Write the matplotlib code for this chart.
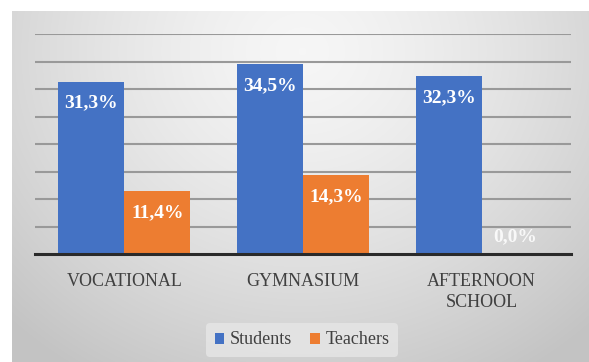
import matplotlib
matplotlib.use("Agg")
import matplotlib.pyplot as plt
import numpy as np

categories = ["VOCATIONAL", "GYMNASIUM", "AFTERNOON\nSCHOOL"]
students = [31.3, 34.5, 32.3]
teachers = [11.4, 14.3, 0.0]
series_names = ["Students", "Teachers"]

BLUE = "#4472C4"
ORANGE = "#ED7D31"
plt.rcParams["font.family"] = "serif"
plt.rcParams["font.serif"] = ["Liberation Serif", "DejaVu Serif"]

fig = plt.figure(figsize=(5.89, 3.62), dpi=100)
fig.patch.set_facecolor("white")

# radial grey gradient behind the chart
bg = fig.add_axes([12 / 589, 0, 577 / 589, 351 / 362])
h, w = 351, 577
yy, xx = np.mgrid[0:h, 0:w]
r = np.sqrt(((xx - 290) / 420) ** 2 + ((yy - 40) / 380) ** 2)
r = np.clip(r, 0, 1)
g = 0.965 - 0.20 * r ** 1.4
bg.imshow(np.dstack([g, g, g]), aspect="auto", extent=[0, 1, 0, 1], interpolation="bilinear")
bg.set_axis_off()

ax = fig.add_axes([35 / 589, (362 - 254) / 362, 536 / 589, 220 / 362])
ax.patch.set_alpha(0)
x = np.arange(len(categories))
bw = 0.37
b1 = ax.bar(x - bw / 2, students, bw, color=BLUE, label=series_names[0], zorder=3)
b2 = ax.bar(x + bw / 2, teachers, bw, color=ORANGE, label=series_names[1], zorder=3)

ax.set_ylim(0, 40)
ax.set_xlim(-0.5, 2.5)
ax.set_yticks(np.arange(5, 41, 5))
ax.yaxis.grid(True, color="#999999", linewidth=1.5, zorder=0)
ax.tick_params(axis="y", left=False, labelleft=False)
ax.tick_params(axis="x", bottom=False, pad=10)
for s in ["top", "right", "left"]:
    ax.spines[s].set_visible(False)
ax.spines["bottom"].set_color("#2a2a2a")
ax.spines["bottom"].set_linewidth(2.2)
ax.spines["bottom"].set_zorder(4)
ax.set_xticks(x)
ax.set_xticklabels(categories, fontsize=13, color="#404040", linespacing=1.3)
ax.set_axisbelow(True)

for bars in (b1, b2):
    for rect in bars:
        v = rect.get_height()
        cx = rect.get_x() + rect.get_width() / 2
        off = -21 if v > 0 else 17
        ax.annotate(f"{v:.1f}%".replace(".", ","), (cx, v), xytext=(0, off),
                    textcoords="offset pixels", ha="center", va="center",
                    color="white", fontweight="bold", fontsize=14, zorder=5,
                    alpha=1.0 if v > 0 else 0.85)

leg = fig.legend(handles=[b1, b2], labels=series_names, loc="center",
                 bbox_to_anchor=(302 / 589, 1 - 340 / 362), ncol=2, frameon=True,
                 fontsize=13, handlelength=0.55, handleheight=0.55,
                 handletextpad=0.3, columnspacing=1.0, borderpad=0.45)
leg.get_frame().set_facecolor("#e4e4e4")
leg.get_frame().set_edgecolor("none")
leg.get_frame().set_alpha(0.9)
for t in leg.get_texts():
    t.set_color("#404040")

fig.savefig("out.png", dpi=100)
